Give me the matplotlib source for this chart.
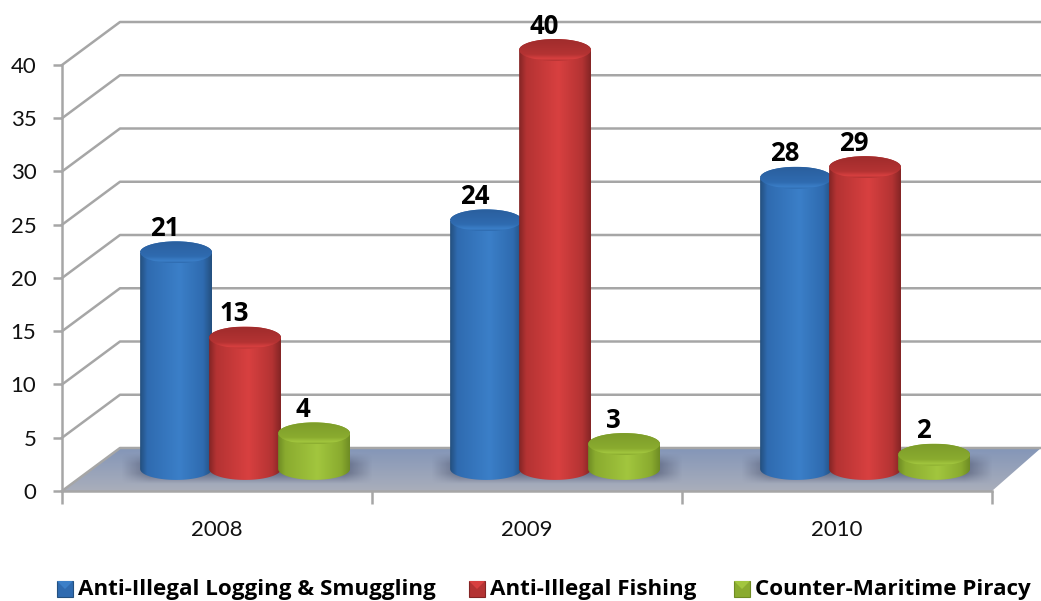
import numpy as np
import matplotlib
matplotlib.use("Agg")
import matplotlib.pyplot as plt
from matplotlib.colors import LinearSegmentedColormap
from matplotlib.patches import Ellipse, PathPatch, Polygon, Rectangle
from matplotlib.path import Path

years = ["2008", "2009", "2010"]
logging_vals = [21, 24, 28]
fishing_vals = [13, 40, 29]
piracy_vals = [4, 3, 2]
series_names = ["Anti-Illegal Logging & Smuggling", "Anti-Illegal Fishing", "Counter-Maritime Piracy"]
y_ticks = [0, 5, 10, 15, 20, 25, 30, 35, 40]

# dark, mid, light colour of each cylinder, last one is the lid's back edge
palettes = [
    ["#24507f", "#2f6bb0", "#3b7fc8", "#2a5f9e"],
    ["#842525", "#b43333", "#d84040", "#a02c2c"],
    ["#6f8c24", "#8aab2f", "#a2c63e", "#7d9c2a"],
]

W, H = 1041, 601
GRID = "#a6a6a6"
depth_x = 58 / 310       # the 3d look, in data units
depth_y = 43 / 10.65
right_end = 979 / 310
bar_w = 0.232
bar_step = 0.2226
first_bar = 0.368 - 0.5
ell_h = 1.03             # half height of the bar ellipses
top_lift = 1.41
base_y = 2.07

plt.rcParams["font.family"] = ["Lato", "DejaVu Sans"]
BOLD = {"family": ["Open Sans", "DejaVu Sans"], "fontweight": "bold"}

fig = plt.figure(figsize=(W / 100, H / 100), dpi=100)
ax = fig.add_axes([62 / W, (H - 491) / H, 930 / W, 426 / H])


def gradient(img, extent, clip, zorder, cmap):
    im = ax.imshow(img, extent=extent, aspect="auto", cmap=cmap, origin="lower",
                   zorder=zorder, interpolation="bilinear", vmin=0, vmax=1)
    im.set_clip_path(clip)
    im.set_clip_box(fig.bbox)   # images get cut at the axes otherwise
    return im


def cylinder(xc, top, colors, z):
    dark, mid, light, back = colors
    x0, x1 = xc - bar_w / 2, xc + bar_w / 2
    t = np.linspace(np.pi, 2 * np.pi, 40)
    # left side, bottom arc, right side, back across the top
    xs = xc + bar_w / 2 * np.cos(t)
    ys = base_y + ell_h * np.sin(t)
    verts = [(x0, top)] + list(zip(xs, ys)) + [(x1, top)]
    verts += list(zip(xc + bar_w / 2 * np.cos(t[::-1] - np.pi), top + ell_h * np.sin(t[::-1] - np.pi)))
    body = Path(verts + [verts[0]])
    patch = PathPatch(body, transform=ax.transData, fc="none", ec="none")
    ax.add_patch(patch)
    side = LinearSegmentedColormap.from_list("s", [(0, dark), (0.1, mid), (0.55, light), (0.88, mid), (1, dark)])
    gradient(np.linspace(0, 1, 200)[None, :], (x0, x1, base_y - ell_h, top + ell_h), patch, z, side)
    # lid of the cylinder
    lid = Ellipse((xc, top), bar_w, 2 * ell_h, fc="none", ec="none", transform=ax.transData)
    ax.add_patch(lid)
    cap = LinearSegmentedColormap.from_list("c", [(0, mid), (0.1, light), (0.3, mid), (1, back)])
    gradient(np.linspace(0, 1, 60)[:, None], (x0, x1, top - ell_h, top + ell_h), lid, z + 0.1, cap)


# floor
floor = Polygon([(0, 0), (depth_x, depth_y), (right_end, depth_y), (3, 0)], fc="none", ec="none",
                transform=ax.transData)
ax.add_patch(floor)
floor_map = LinearSegmentedColormap.from_list("f", ["#a9aebb", "#8496b8"])
gradient(np.linspace(0, 1, 50)[:, None], (0, right_end, 0, depth_y), floor, 1, floor_map)

# grid on the back and side walls
for v in y_ticks:
    ax.plot([0, depth_x, right_end], [v, v + depth_y, v + depth_y], color=GRID, lw=1.8, clip_on=False, zorder=2)

# soft shadow under each group
for i in range(3):
    sx0, sx1 = i + 0.19, i + 1.0
    sy0, sy1 = 0.7, 3.6
    gx, gy = np.meshgrid(np.linspace(sx0, sx1, 200), np.linspace(sy0, sy1, 40))
    edge_x = np.clip(np.minimum(gx - sx0, sx1 - gx) / 0.09, 0, 1)
    edge_y = np.clip(np.minimum(gy - sy0, sy1 - gy) / 1.0, 0, 1)
    rgba = np.zeros(gx.shape + (4,))
    rgba[..., :3] = (0.22, 0.25, 0.36)
    rgba[..., 3] = 0.52 * edge_x * edge_y
    im = ax.imshow(rgba, extent=(sx0, sx1, sy0, sy1), aspect="auto", origin="lower", zorder=2.5)
    im.set_clip_path(floor)
    im.set_clip_box(fig.bbox)

# bars and their labels
all_vals = [logging_vals, fishing_vals, piracy_vals]
for s, vals in enumerate(all_vals):
    for i, v in enumerate(vals):
        xc = i + 0.5 + first_bar + s * bar_step
        top = v + top_lift
        cylinder(xc, top, palettes[s], 3 + s + i * 0.01)
        ax.text(xc - 0.035, top + 2.25, str(v), ha="center", va="center", fontsize=18.5,
                color="black", zorder=8, clip_on=False, **BOLD)

ax.set_xlim(0, 3)
ax.set_ylim(0, 40)
ax.patch.set_visible(False)
for name in ["top", "right"]:
    ax.spines[name].set_visible(False)
for name in ["left", "bottom"]:
    ax.spines[name].set_color(GRID)
    ax.spines[name].set_linewidth(1.8)
    ax.spines[name].set_zorder(2.8)
ax.set_yticks(y_ticks)
ax.set_xticks([0, 1, 2, 3])
ax.set_xticklabels([])
ax.set_xticks([0.5, 1.5, 2.5], labels=years, minor=True)
ax.tick_params(axis="y", length=6.5, width=1.8, color=GRID, labelsize=16, pad=12, labelcolor="#111111")
ax.tick_params(axis="x", which="major", length=9, width=1.8, color=GRID)
ax.tick_params(axis="x", which="minor", length=0, labelsize=16, pad=21, labelcolor="#111111")

# legend, placed by hand in pixels
legend_x = [57, 469, 734]
for (lx, name, colors) in zip(legend_x, series_names, palettes):
    y0 = H - 597
    fig.add_artist(Rectangle((lx / W, y0 / H), 16 / W, 16 / H, transform=fig.transFigure,
                             fc=colors[1], ec=colors[0], lw=0.8))
    fig.add_artist(Polygon([(lx / W, (y0 + 16) / H), ((lx + 16) / W, (y0 + 16) / H), ((lx + 8) / W, (y0 + 8) / H)],
                           transform=fig.transFigure, fc=colors[2], ec="none"))
    fig.text((lx + 21) / W, (y0 + 8) / H, name, ha="left", va="center", fontsize=16.1, color="black", **BOLD)

fig.savefig("out.png", dpi=100)
